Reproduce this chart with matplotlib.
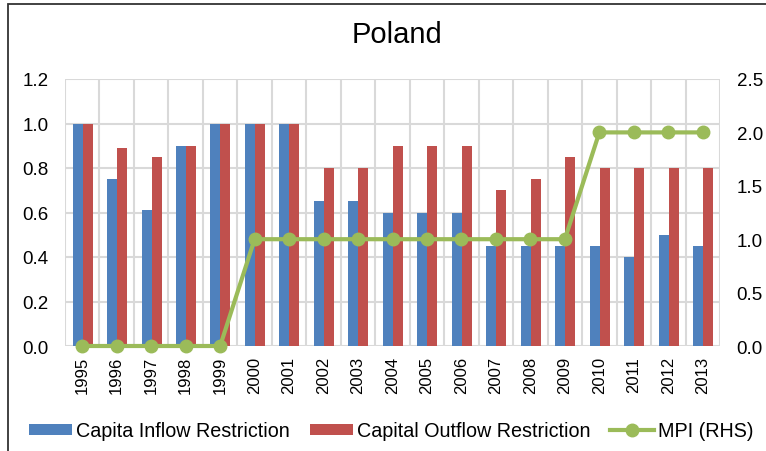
import matplotlib
matplotlib.use("Agg")
import matplotlib.pyplot as plt
import numpy as np
from matplotlib.lines import Line2D
from matplotlib.patches import Patch, Rectangle

plt.rcParams['font.family'] = ['Liberation Sans', 'DejaVu Sans']

years = [str(y) for y in range(1995, 2014)]
inflow = [1.0, 0.75, 0.61, 0.9, 1.0, 1.0, 1.0, 0.65, 0.65, 0.6, 0.6, 0.6,
          0.45, 0.45, 0.45, 0.45, 0.4, 0.5, 0.45]
outflow = [1.0, 0.89, 0.85, 0.9, 1.0, 1.0, 1.0, 0.8, 0.8, 0.9, 0.9, 0.9,
           0.7, 0.75, 0.85, 0.8, 0.8, 0.8, 0.8]
mpi = [0, 0, 0, 0, 0, 1, 1, 1, 1, 1, 1, 1, 1, 1, 1, 2, 2, 2, 2]

left_ticks = [0.0, 0.2, 0.4, 0.6, 0.8, 1.0, 1.2]
right_ticks = [0.0, 0.5, 1.0, 1.5, 2.0, 2.5]

blue = '#4F81BD'
red = '#C0504D'
green = '#9BBB59'
grid = '#D9D9D9'

W, H = 766, 452
fig = plt.figure(figsize=(W / 100, H / 100), dpi=100)
fig.patch.set_facecolor('white')

# figure border (left and top visible)
fig.add_artist(Rectangle((8 / W, -0.1), 1.2, 1 - 5 / H + 0.1, transform=fig.transFigure,
                         fill=False, edgecolor='#333333', linewidth=1.3))

ax = fig.add_axes([65 / W, 1 - 347 / H, 655 / W, 267 / H])
x = np.arange(len(years))
bw = 0.29
ax.bar(x - bw / 2 + 0.01, inflow, bw, color=blue, zorder=2, label='Capita Inflow Restriction')
ax.bar(x + bw / 2 + 0.01, outflow, bw, color=red, zorder=2, label='Capital Outflow Restriction')

ax.set_xlim(-0.5, len(years) - 0.5)
ax.set_ylim(0, 1.2)
ax.set_yticks(left_ticks)
ax.set_yticklabels([f'{v:.1f}' for v in left_ticks], fontsize=13.5)
ax.set_xticks(x)
ax.set_xticklabels(years, rotation=90, fontsize=12)
ax.set_xticks(np.arange(-0.5, len(years), 1.0), minor=True)
ax.tick_params(axis='both', which='both', length=0)
ax.tick_params(axis='y', pad=12)
ax.tick_params(axis='x', pad=7)
ax.grid(True, axis='y', color=grid, linewidth=1.5, zorder=0)
ax.grid(True, axis='x', which='minor', color=grid, linewidth=1.5, zorder=0)
ax.grid(False, axis='x', which='major')
for s in ax.spines.values():
    s.set_visible(False)
ax.set_axisbelow(True)

ax2 = ax.twinx()
ax2.plot(x, mpi, color=green, linewidth=3, marker='o', markersize=9, zorder=3,
         clip_on=False, label='MPI (RHS)')
ax2.set_ylim(0, 2.5)
ax2.set_yticks(right_ticks)
ax2.set_yticklabels([f'{v:.1f}' for v in right_ticks], fontsize=13.5)
ax2.tick_params(axis='y', length=0, pad=12)
for s in ax2.spines.values():
    s.set_visible(False)

fig.text(397 / W, 1 - 35 / H, 'Poland', ha='center', va='center', fontsize=21)

handles = [Patch(facecolor=blue, label='Capita Inflow Restriction'),
           Patch(facecolor=red, label='Capital Outflow Restriction'),
           Line2D([0], [0], color=green, linewidth=3, marker='o', markersize=9,
                  label='MPI (RHS)')]
fig.legend(handles=handles, loc='center', bbox_to_anchor=(391 / W, 1 - 432 / H),
           ncol=3, frameon=False, fontsize=14.2, handlelength=2.2, handleheight=0.55,
           handletextpad=0.2, columnspacing=1.0, borderpad=0)

fig.savefig('out.png', dpi=100, facecolor='white')
